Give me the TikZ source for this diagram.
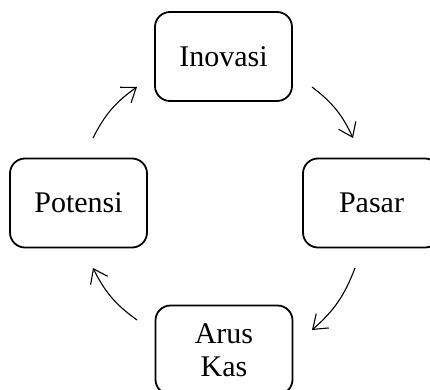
\documentclass[tikz,border=0pt]{standalone}
\usepackage{fontspec}
\setmainfont{Liberation Serif}
\usetikzlibrary{arrows.meta}
\begin{document}
\begin{tikzpicture}[x=1pt,y=1pt,
  box/.style={draw, line width=1.8pt, rounded corners=15pt, minimum width=137pt, minimum height=89pt, align=center, inner sep=0pt, font=\fontsize{30}{33}\selectfont},
  cyc/.style={line width=1.1pt, -{Straight Barb[length=13pt,width=19pt,line width=1.1pt]}, bend left=14}]
\useasboundingbox (0,0) rectangle (430,389);
\clip (0,0) rectangle (430,389);
\node[box] (ino) at (223.5,332.5) {Inovasi};
\node[box] (pot) at (78.5,186) {Potensi};
\node[box] (pas) at (371.5,186) {Pasar};
\node[box] (kas) at (224,39) {Arus\\Kas};
\coordinate (a1s) at (93,251);
\coordinate (a1e) at (137,302);
\coordinate (a2s) at (312,302);
\coordinate (a2e) at (353,251);
\coordinate (a3s) at (355,121);
\coordinate (a3e) at (312,59);
\coordinate (a4s) at (137,69);
\coordinate (a4e) at (93,121);
\draw[cyc] (a1s) to (a1e);
\draw[cyc] (a2s) to (a2e);
\draw[cyc] (a3s) to (a3e);
\draw[cyc] (a4s) to (a4e);
\end{tikzpicture}
\end{document}
